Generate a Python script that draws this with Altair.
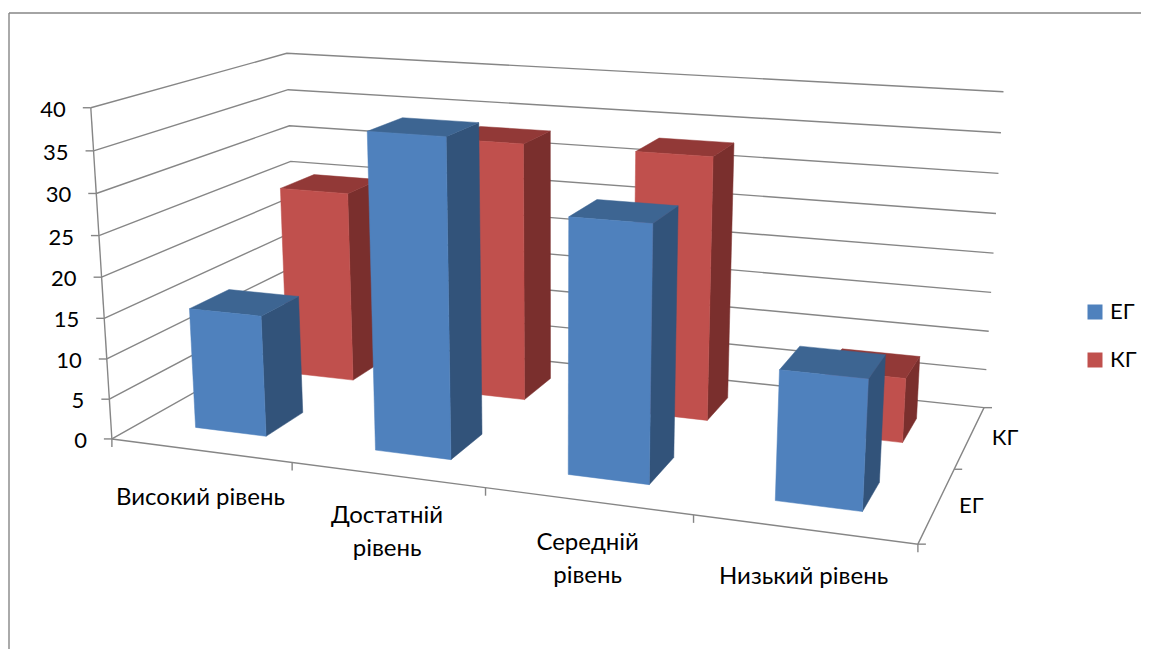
import numpy as np
import pandas as pd
import altair as alt

categories = ["Високий рівень", "Достатній\nрівень", "Середній\nрівень", "Низький рівень"]
series = ["ЕГ", "КГ"]
values_eg = [15, 38, 30, 15]
values_kg = [25, 33, 33, 8]
value_ticks = [0, 5, 10, 15, 20, 25, 30, 35, 40]
VMAX = 40

# camera: correspondences between chart-box coordinates and the page
cal = [
    ((0, 0, 0), (112, 439)), ((0, 0, .25), (107, 359)), ((0, 0, .5), (101, 277)), ((0, 0, 1), (91, 108)),
    ((0, 1, 1), (287, 53)), ((0, 1, .875), (288, 90)), ((0, 1, .75), (289, 126)), ((0, 1, .625), (291, 161)),
    ((1, 1, 1), (1003, 92)), ((1, 1, .875), (1001, 132.5)), ((1, 1, .75), (998.5, 173)), ((1, 1, .625), (996, 213)),
    ((1, 1, .5), (994, 253)), ((1, 1, .375), (991, 293)), ((1, 1, .25), (989, 332)), ((1, 1, .125), (987, 370)),
    ((1, 1, 0), (983, 407)), ((1, 0, 0), (918, 544)),
]
A, b = [], []
for (u, v, w), (px, py) in cal:
    A.append([u, v, w, 1, 0, 0, 0, 0, -px * u, -px * v, -px * w])
    b.append(px)
    A.append([0, 0, 0, 0, u, v, w, 1, -py * u, -py * v, -py * w])
    b.append(py)
m = np.linalg.lstsq(np.array(A, float), np.array(b, float), rcond=None)[0]
P = np.append(m, 1).reshape(3, 4)


def proj(u, v, w):
    x, y, z = P @ np.array([u, v, w, 1.0])
    return x / z, y / z


rows_line = []
def add_line(name, pts):
    for i, (x, y) in enumerate(pts):
        rows_line.append(dict(px=x, py=y, key=name, i=i))


for t in value_ticks:
    w = t / VMAX
    add_line(f"g{t}", [proj(0, 0, w), proj(0, 1, w), proj(1, 1, w)])
    x, y = proj(0, 0, w)
    add_line(f"yt{t}", [(x - 8, y), (x, y)])
add_line("yaxis", [proj(0, 0, 0), proj(0, 0, 1)])
add_line("floor", [proj(0, 0, 0), proj(1, 0, 0), proj(1, 1, 0)])
for i in range(len(categories) + 1):
    x, y = proj(i / len(categories), 0, 0)
    add_line(f"xt{i}", [(x, y), (x, y + 8)])
for j in range(len(series) + 1):
    x, y = proj(1, j / len(series), 0)
    add_line(f"zt{j}", [(x, y), (x + 8, y)])
add_line("frameT", [(9, 13), (1141, 13)])
add_line("frameL", [(9, 13), (9, 649)])
lines = pd.DataFrame(rows_line)

rows_poly = []
def add_poly(name, face, pts):
    pts = pts + pts[:1]
    for i, q in enumerate(pts):
        x, y = proj(*q)
        rows_poly.append(dict(px=x, py=y, key=name, i=i, face=face))


for j, (s, vals) in reversed(list(enumerate(zip(series, [values_eg, values_kg])))):
    for c, val in enumerate(vals):
        n = len(categories)
        u0, u1 = (c + .3) / n, (c + .7) / n
        v0, v1 = (j + .3) / 2, (j + .7) / 2
        w = val / VMAX
        add_poly(f"{s}{c}s", s + " бік", [(u1, v0, 0), (u1, v1, 0), (u1, v1, w), (u1, v0, w)])
        add_poly(f"{s}{c}t", s + " верх", [(u0, v0, w), (u1, v0, w), (u1, v1, w), (u0, v1, w)])
        add_poly(f"{s}{c}f", s, [(u0, v0, 0), (u1, v0, 0), (u1, v0, w), (u0, v0, w)])
polys = pd.DataFrame(rows_poly)

face_dom = ["ЕГ", "КГ", "ЕГ бік", "ЕГ верх", "КГ бік", "КГ верх"]
face_col = ["#4F81BD", "#C0504D", "#32537A", "#3D6592", "#7A2F2D", "#923937"]

ylab = []
for t in value_ticks:
    x, y = proj(0, 0, t / VMAX)
    ylab.append(dict(px=x - 25, py=y + 2, t=str(t)))
xlab = []
for c, lab in enumerate(categories):
    x, y = proj((c + .5) / len(categories), 0, 0)
    xlab.append(dict(px=x, py=y + (41.5 if "\n" in lab else 47.5), t=lab))
zlab = []
for j, s in enumerate(series):
    x, y = proj(1, (j + .5) / len(series), 0)
    zlab.append(dict(px=x + 22, py=y + 1, t=s))

FONT = "Lato"
X = alt.X("px:Q", scale=alt.Scale(domain=[8, 1141]), axis=None)
Y = alt.Y("py:Q", scale=alt.Scale(domain=[649, 8]), axis=None)

line_layer = alt.Chart(lines).mark_line(color="#868686", strokeWidth=1.4).encode(
    X, Y, detail="key:N", order="i:Q")
poly_layer = alt.Chart(polys).mark_line(strokeWidth=0.5, fill="#4F81BD").encode(
    X, Y, detail="key:N", order="i:Q",
    fill=alt.Fill("face:N", scale=alt.Scale(domain=face_dom, range=face_col),
                  legend=alt.Legend(values=series, title=None, orient="none", legendX=1076, legendY=293,
                                    symbolType="square", symbolSize=225, symbolStrokeWidth=0,
                                    labelFont=FONT, labelFontSize=22, labelColor="#000000", rowPadding=26,
                                    labelOffset=4)),
    stroke=alt.Stroke("face:N", scale=alt.Scale(domain=face_dom, range=face_col), legend=None),
)


def text_layer(rows, align, size):
    return alt.Chart(pd.DataFrame(rows)).mark_text(
        font=FONT, fontSize=size, color="#000000", align=align, baseline="middle", lineBreak="\n", lineHeight=33
    ).encode(X, Y, text="t:N")


chart = alt.layer(
    line_layer, poly_layer, text_layer(ylab, "right", 22), text_layer(xlab, "center", 24), text_layer(zlab, "left", 22)
).properties(width=1133, height=641, padding=0, autosize="none", background="#ffffff"
).configure_view(stroke=None)

chart.save("out.html", embed_options={"renderer": "svg", "actions": False})
